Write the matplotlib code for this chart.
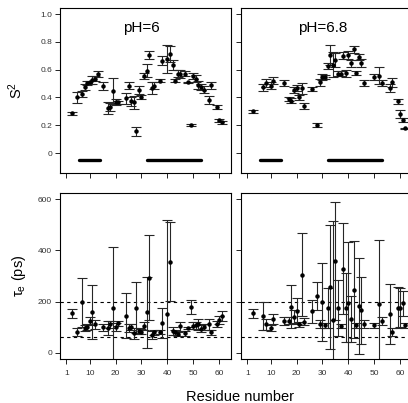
import numpy as np
import matplotlib
matplotlib.use("Agg")
import matplotlib.pyplot as plt

plt.rcParams['font.family'] = ['Liberation Sans', 'DejaVu Sans']
plt.rcParams['mathtext.fontset'] = 'custom'
plt.rcParams['mathtext.rm'] = 'Liberation Sans'
plt.rcParams['mathtext.it'] = 'Liberation Sans:italic'

# ---- order parameter S2, pH 6 ----
s2_res_6 = [3, 5, 7, 8, 9, 10, 11, 12, 13, 15, 17, 18, 19, 20, 21, 24, 25, 26, 27, 28,
            29, 30, 31, 32, 33, 34, 35, 37, 38, 40, 41, 42, 43, 44, 45, 47, 48, 49, 50,
            51, 52, 53, 54, 56, 57, 59, 60, 61]
s2_val_6 = [0.285, 0.40, 0.425, 0.475, 0.505, 0.51, 0.525, 0.535, 0.57, 0.484, 0.324, 0.33,
            0.448, 0.367, 0.365, 0.395, 0.484, 0.371, 0.364, 0.155, 0.455, 0.403, 0.556,
            0.594, 0.707, 0.467, 0.484, 0.522, 0.666, 0.676, 0.714, 0.635, 0.522, 0.571,
            0.571, 0.571, 0.508, 0.201, 0.556, 0.535, 0.489, 0.475, 0.455, 0.38, 0.488,
            0.332, 0.235, 0.22]
s2_err_6 = [0.008, 0.04, 0.025, 0.02, 0.012, 0.012, 0.03, 0.02, 0.02, 0.03, 0.045, 0.03,
            0.095, 0.02, 0.01, 0.04, 0.025, 0.03, 0.05, 0.035, 0.03, 0.015, 0.02, 0.045,
            0.03, 0.045, 0.025, 0.01, 0.035, 0.1, 0.06, 0.035, 0.01, 0.025, 0.03, 0.02,
            0.005, 0.005, 0.02, 0.025, 0.03, 0.02, 0.025, 0.03, 0.025, 0.015, 0.012, 0.01]

# ---- order parameter S2, pH 6.8 ----
s2_res_68 = [3, 7, 8, 10, 11, 15, 17, 18, 19, 20, 21, 22, 23, 26, 28, 29, 30, 31, 32, 33,
             34, 35, 36, 37, 38, 39, 40, 41, 42, 43, 44, 45, 46, 50, 52, 53, 56, 57, 59,
             60, 61, 62]
s2_val_68 = [0.30, 0.475, 0.503, 0.484, 0.522, 0.503, 0.39, 0.378, 0.455, 0.467, 0.40,
             0.467, 0.34, 0.46, 0.20, 0.508, 0.547, 0.547, 0.628, 0.707, 0.635, 0.671,
             0.571, 0.571, 0.70, 0.575, 0.707, 0.647, 0.748, 0.575, 0.69, 0.647, 0.503,
             0.547, 0.556, 0.503, 0.467, 0.508, 0.371, 0.283, 0.24, 0.177]
s2_err_68 = [0.01, 0.025, 0.03, 0.025, 0.025, 0.02, 0.015, 0.015, 0.02, 0.02, 0.015, 0.04,
             0.02, 0.015, 0.015, 0.025, 0.02, 0.015, 0.02, 0.07, 0.09, 0.05, 0.02, 0.02,
             0.025, 0.025, 0.03, 0.025, 0.025, 0.015, 0.02, 0.03, 0.02, 0.02, 0.06, 0.02,
             0.03, 0.03, 0.02, 0.03, 0.015, 0.005]

# ---- internal correlation time tau_e (ps), pH 6 ----
te_res_6 = [3, 5, 7, 8, 9, 10, 11, 12, 15, 17, 18, 19, 20, 21, 24, 25, 26, 27, 28, 29, 30,
            31, 32, 33, 34, 35, 37, 38, 40, 41, 42, 43, 44, 45, 47, 48, 49, 50, 51, 52,
            53, 54, 56, 57, 59, 60, 61]
te_val_6 = [155, 82, 197, 98, 100, 124, 160, 112, 100, 98, 111, 176, 102, 115, 145, 98,
            100, 76, 176, 85, 82, 106, 158, 294, 69, 80, 82, 117, 151, 356, 85, 80, 73,
            104, 76, 98, 180, 106, 108, 111, 95, 102, 111, 80, 111, 128, 145]
te_err_6 = [17, 16, 97, 12, 12, 15, 104, 18, 14, 28, 15, 237, 15, 10, 88, 15, 12, 20, 100,
            12, 10, 15, 139, 167, 15, 10, 8, 60, 369, 155, 15, 10, 8, 18, 10, 3, 27, 14,
            14, 20, 15, 12, 20, 10, 12, 15, 20]

# ---- internal correlation time tau_e (ps), pH 6.8 ----
te_res_68 = [3, 7, 8, 10, 11, 15, 17, 18, 19, 20, 21, 22, 23, 26, 28, 29, 30, 31, 32, 33,
             34, 35, 36, 37, 38, 39, 40, 41, 42, 43, 44, 45, 46, 50, 52, 53, 56, 57, 59,
             60, 61, 62]
te_val_68 = [154, 145, 111, 97, 133, 124, 126, 180, 141, 163, 111, 305, 122, 163, 222, 113,
             198, 108, 174, 257, 128, 359, 176, 106, 328, 176, 196, 131, 247, 108, 183,
             166, 112, 108, 192, 124, 152, 82, 177, 177, 193, 108]
te_err_68 = [17, 55, 20, 12, 20, 15, 15, 84, 25, 50, 10, 162, 15, 45, 53, 15, 152, 10, 78,
             243, 387, 229, 109, 8, 178, 135, 238, 90, 190, 10, 188, 132, 15, 10, 250, 15,
             117, 15, 80, 78, 50, 10]

# secondary structure segments drawn under the S2 data
segments = [(6, 14), (32, 53)]
seg_y = -0.05
te_lines = [200, 60]

panels = [("pH=6", s2_res_6, s2_val_6, s2_err_6, te_res_6, te_val_6, te_err_6),
          ("pH=6.8", s2_res_68, s2_val_68, s2_err_68, te_res_68, te_val_68, te_err_68)]

fig = plt.figure(figsize=(4.08, 4.03), dpi=100)
W, H = 408.0, 403.0
lefts = [60, 241]
pw = 171


def style(ax, show_x, show_y):
    for sp in ax.spines.values():
        sp.set_linewidth(0.8)
    ax.set_xlim(-1.5, 64.6)
    ax.set_xticks([1, 10, 20, 30, 40, 50, 60])
    ax.tick_params(direction='out', length=3.3, width=0.7, labelsize=6,
                   labelcolor='#333333', color='#222222')
    ax.tick_params(axis='x', pad=4.5, labelbottom=show_x)
    ax.tick_params(axis='y', pad=2.5, labelleft=show_y)


eb = dict(fmt='o', ms=2.2, color='black', ecolor='#262626', elinewidth=0.8,
          capsize=3.8, capthick=0.8)

for i, (title, sr, sv, se, tr, tv, te) in enumerate(panels):
    x0 = lefts[i] / W
    ax1 = fig.add_axes([x0, (H - 173) / H, pw / W, 165 / H])
    ax1.errorbar(sr, sv, yerr=se, **eb)
    for a, b in segments:
        ax1.plot([a, b], [seg_y, seg_y], color='black', lw=2.4, solid_capstyle='round')
    ax1.text(30, 0.9, title, ha='center', va='center', fontsize=11)
    ax1.set_ylim(-0.144, 1.044)
    ax1.set_yticks([0, 0.2, 0.4, 0.6, 0.8, 1.0])
    ax1.set_yticklabels(["0", "0.2", "0.4", "0.6", "0.8", "1.0"])
    style(ax1, False, i == 0)

    ax2 = fig.add_axes([x0, (H - 359) / H, pw / W, 166 / H])
    for yl in te_lines:
        ax2.axhline(yl, color='black', lw=0.8, ls=(0, (3, 3)))
    ax2.errorbar(tr, tv, yerr=te, **eb)
    ax2.set_ylim(-24, 624)
    ax2.set_yticks([0, 200, 400, 600])
    style(ax2, True, i == 0)

fig.text(16 / W, 1 - 90 / H, r'S$^2$', rotation=90, ha='center', va='center', fontsize=10.5)
fig.text(19 / W, 1 - 276 / H, r'$\mathregular{\tau_e}$ (ps)', rotation=90,
         ha='center', va='center', fontsize=10.5)
fig.text(240 / W, 1 - 397 / H, 'Residue number', ha='center', va='center', fontsize=10.5)

fig.savefig('out.png', dpi=100)
